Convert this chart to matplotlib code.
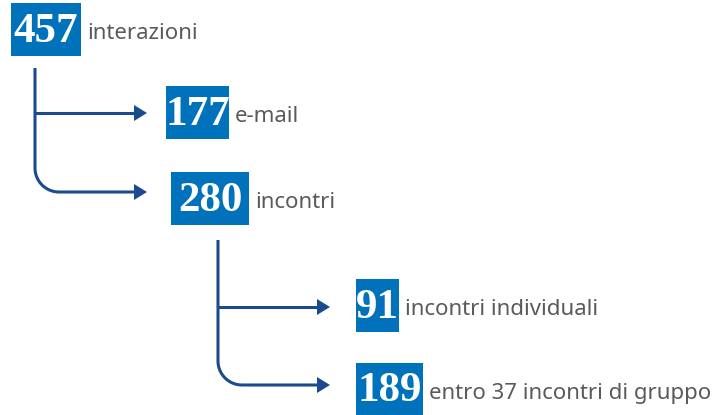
import numpy as np
import matplotlib.pyplot as plt
from matplotlib.patches import Rectangle, Polygon

# numbers and labels of the flow
values = [457, 177, 280, 91, 189]
labels = ["interazioni", "e-mail", "incontri", "incontri individuali",
          "entro 37 incontri di gruppo"]

# box positions in pixels: (left, top, width, height)
boxes = [(11, 3, 70, 53), (166, 86, 63, 53), (171, 172, 78, 53),
         (356, 279, 43, 53), (356, 363, 67, 52)]

box_col = "#0072bc"
line_col = "#1b4a8e"
text_col = "#5a5a5a"

fig = plt.figure(figsize=(7.23, 4.15), dpi=100)
ax = fig.add_axes([0, 0, 1, 1])
ax.set_xlim(0, 723)
ax.set_ylim(415, 0)
ax.axis("off")

for v, lab, (x, y, w, h) in zip(values, labels, boxes):
    ax.add_patch(Rectangle((x, y), w, h, color=box_col, lw=0))
    ax.text(x + w / 2, y + h / 2 + 2, str(v), ha="center", va="center",
            color="white", fontsize=31, fontweight="bold",
            family="Liberation Serif")
    ax.text(x + w + 6, y + h / 2 + 4, lab, ha="left", va="center",
            color=text_col, fontsize=16, family="Noto Sans")


def branch(x0, y_top, y_mid, y_bot, x_tip, r=24):
    # vertical stem with rounded corner into the lower arrow
    t = np.linspace(np.pi, np.pi / 2, 20)
    cx, cy = x0 + r, y_bot - r
    xs = [x0, x0] + list(cx + r * np.cos(t)) + [x_tip - 12]
    ys = [y_top, cy] + list(cy + r * np.sin(t)) + [y_bot]
    ax.plot(xs, ys, color=line_col, lw=2.2, solid_capstyle="butt")
    ax.plot([x0, x_tip - 12], [y_mid, y_mid], color=line_col, lw=2.2)
    for yy in (y_mid, y_bot):
        ax.add_patch(Polygon([(x_tip - 13, yy - 8), (x_tip, yy),
                              (x_tip - 13, yy + 8)], color=line_col, lw=0))


branch(35, 68, 113, 192, 147)
branch(218, 240, 307, 385, 330)

fig.savefig("out.png", dpi=100)
